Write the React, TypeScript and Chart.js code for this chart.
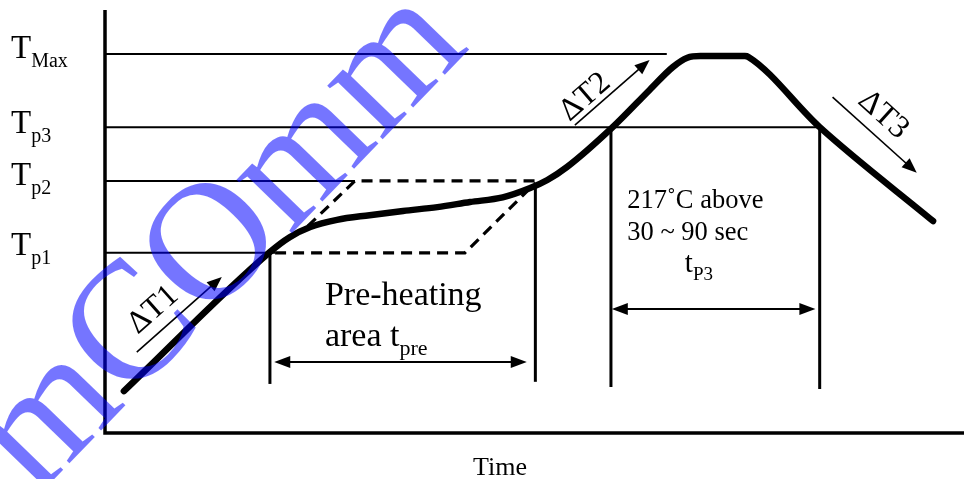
import { useEffect, useRef } from "react";
import { Chart, registerables } from "chart.js";

Chart.register(...registerables);

// ---- data (abstract time 0..100, abstract temperature 0..100) ----
const levelNames = ["Max", "p3", "p2", "p1"];
const levelValues = [89.6, 72.3, 59.6, 42.6];
const levelLineEnds = [65.4, 83.2, 29.1, 19.8];

const profileX = [2.2, 19.2, 21.5, 23.9, 27.0, 30.8, 34.7, 38.7, 42.5, 46.3, 49.5, 51.5, 53.8, 59.1, 63.4, 66.1, 67.8, 69.3, 74.5, 74.9, 83.2, 96.4];
const profileY = [9.9, 42.8, 46.3, 48.7, 50.4, 51.5, 52.5, 53.4, 54.6, 55.7, 57.9, 59.8, 62.9, 72.3, 81.1, 86.5, 88.7, 89.1, 89.1, 88.9, 72.3, 50.1];

const soakUpperX = [23.6, 29.1, 50.1];
const soakUpperY = [48.9, 59.6, 59.6];
const soakLowerX = [19.8, 41.9, 50.1];
const soakLowerY = [42.6, 42.6, 59.1];

const markerX = [19.2, 50.1, 58.9, 83.2];
const markerTop = [42.6, 58.4, 72.3, 72.3];
const markerBottom = [11.6, 12.1, 10.9, 10.4];

const spanFromX = [19.7, 59.0];
const spanToX = [49.1, 82.7];
const spanY = [16.8, 29.3];

const rateNames = ["ΔT1", "ΔT2", "ΔT3"];
const rateFromX = [3.7, 54.7, 84.7];
const rateFromY = [19.1, 72.8, 79.4];
const rateToX = [13.6, 63.4, 94.5];
const rateToY = [36.9, 88.2, 61.5];
const rateLabelX = [5.6, 55.9, 90.6];
const rateLabelY = [29.1, 79.4, 75.2];

const preheatLines = ["Pre-heating", "area t"];
const preheatSub = "pre";
const peakLines = ["217˚C above", "30 ~ 90 sec"];
const peakTime = ["t", "P3"];
const xTitle = "Time";
const watermark = "mCOmm";

const SERIF = "'Liberation Serif', 'DejaVu Serif', serif";

function seg(x1: number, y1: number, x2: number, y2: number) {
  return [
    { x: x1, y: y1 },
    { x: x2, y: y2 },
  ];
}

function head(ctx: CanvasRenderingContext2D, x: number, y: number, ang: number, len = 15, w = 5.5) {
  ctx.save();
  ctx.translate(x, y);
  ctx.rotate(ang);
  ctx.beginPath();
  ctx.moveTo(0, 0);
  ctx.lineTo(-len, -w);
  ctx.lineTo(-len, w);
  ctx.closePath();
  ctx.fill();
  ctx.restore();
}

const decorPlugin = {
  id: "decor",
  afterDatasetsDraw(chart: any) {
    const ctx: CanvasRenderingContext2D = chart.ctx;
    const xs = chart.scales.x;
    const ys = chart.scales.y;
    const area = chart.chartArea;
    const px = (v: number) => xs.getPixelForValue(v);
    const py = (v: number) => ys.getPixelForValue(v);
    ctx.save();
    ctx.fillStyle = "#000";
    ctx.strokeStyle = "#000";

    // axes
    ctx.lineWidth = 3.5;
    ctx.beginPath();
    ctx.moveTo(area.left, area.top);
    ctx.lineTo(area.left, area.bottom);
    ctx.lineTo(area.right, area.bottom);
    ctx.stroke();

    // span arrows (double-headed)
    ctx.lineWidth = 2;
    for (let i = 0; i < spanY.length; i++) {
      const x1 = px(spanFromX[i]);
      const x2 = px(spanToX[i]);
      const y = py(spanY[i]);
      ctx.beginPath();
      ctx.moveTo(x1 + 8, y);
      ctx.lineTo(x2 - 8, y);
      ctx.stroke();
      head(ctx, x1, y, Math.PI, 16, 6);
      head(ctx, x2, y, 0, 16, 6);
    }

    // rate arrows and labels
    ctx.lineWidth = 1.6;
    for (let i = 0; i < rateNames.length; i++) {
      const x1 = px(rateFromX[i]);
      const y1 = py(rateFromY[i]);
      const x2 = px(rateToX[i]);
      const y2 = py(rateToY[i]);
      const ang = Math.atan2(y2 - y1, x2 - x1);
      ctx.beginPath();
      ctx.moveTo(x1, y1);
      ctx.lineTo(x2 - Math.cos(ang) * 8, y2 - Math.sin(ang) * 8);
      ctx.stroke();
      head(ctx, x2, y2, ang, 15, 6);
      ctx.save();
      ctx.translate(px(rateLabelX[i]), py(rateLabelY[i]));
      ctx.rotate(ang);
      ctx.font = `32px ${SERIF}`;
      ctx.textAlign = "center";
      ctx.textBaseline = "middle";
      ctx.fillText(rateNames[i], 0, 0);
      ctx.restore();
    }

    // level labels on the left
    ctx.textAlign = "left";
    ctx.textBaseline = "alphabetic";
    const baseOff = [4, 6, 4, 2];
    for (let i = 0; i < levelNames.length; i++) {
      const y = py(levelValues[i]) + baseOff[i];
      const x = 11;
      ctx.font = `33px ${SERIF}`;
      ctx.fillText("T", x, y);
      const w = ctx.measureText("T").width;
      ctx.font = `20px ${SERIF}`;
      ctx.fillText(levelNames[i], x + w, y + 9);
    }

    // pre-heating text
    ctx.font = `34px ${SERIF}`;
    const phx = px(25.6);
    ctx.fillText(preheatLines[0], phx, py(30.3));
    ctx.fillText(preheatLines[1], phx, py(20.6));
    const w2 = ctx.measureText(preheatLines[1]).width;
    ctx.font = `22px ${SERIF}`;
    ctx.fillText(preheatSub, phx + w2, py(20.6) + 9);

    // peak text
    ctx.font = `26.5px ${SERIF}`;
    ctx.fillText(peakLines[0], px(60.8), py(53.2));
    ctx.fillText(peakLines[1], px(60.8), py(45.6));
    ctx.font = `29px ${SERIF}`;
    ctx.fillText(peakTime[0], px(67.5), py(38.1));
    const wt = ctx.measureText(peakTime[0]).width;
    ctx.font = `19px ${SERIF}`;
    ctx.fillText(peakTime[1], px(67.5) + wt, py(38.1) + 8);

    // x title
    ctx.font = `26px ${SERIF}`;
    ctx.fillText(xTitle, 473, 475);
    ctx.restore();
  },
  afterDraw(chart: any) {
    const ctx: CanvasRenderingContext2D = chart.ctx;
    ctx.save();
    ctx.translate(222, 242);
    ctx.rotate((-46 * Math.PI) / 180);
    ctx.font = `168px ${SERIF}`;
    ctx.textAlign = "center";
    ctx.textBaseline = "middle";
    ctx.fillStyle = "rgba(0,0,255,0.54)";
    ctx.fillText(watermark, 0, 0);
    ctx.restore();
  },
};

export default function App() {
  const ref = useRef<HTMLCanvasElement | null>(null);
  useEffect(() => {
    if (!ref.current) return;
    const datasets: any[] = [];
    // level reference lines
    levelValues.forEach((v, i) => {
      datasets.push({ data: seg(0, v, levelLineEnds[i], v), borderColor: "#000", borderWidth: 2, pointRadius: 0, showLine: true });
    });
    // vertical markers
    markerX.forEach((x, i) => {
      datasets.push({ data: seg(x, markerBottom[i], x, markerTop[i]), borderColor: "#000", borderWidth: 3, pointRadius: 0, showLine: true });
    });
    // soak envelope (dashed)
    datasets.push({
      data: soakUpperX.map((x, i) => ({ x, y: soakUpperY[i] })),
      borderColor: "#000", borderWidth: 3.2, borderDash: [11, 7], pointRadius: 0, showLine: true,
    });
    datasets.push({
      data: soakLowerX.map((x, i) => ({ x, y: soakLowerY[i] })),
      borderColor: "#000", borderWidth: 3.2, borderDash: [11, 7], pointRadius: 0, showLine: true,
    });
    // profile
    datasets.push({
      data: profileX.map((x, i) => ({ x, y: profileY[i] })),
      borderColor: "#000", borderWidth: 6.5, pointRadius: 0, showLine: true,
      cubicInterpolationMode: "monotone", borderCapStyle: "round", borderJoinStyle: "round",
    });

    const chart = new Chart(ref.current, {
      type: "scatter",
      data: { datasets },
      options: {
        animation: false,
        responsive: false,
        layout: { padding: { left: 105, top: 10, right: 0, bottom: 46 } },
        plugins: { legend: { display: false }, tooltip: { enabled: false } },
        scales: {
          x: { type: "linear", min: 0, max: 100, display: false },
          y: { type: "linear", min: 0, max: 100, display: false },
        },
      },
      plugins: [decorPlugin],
    });
    return () => chart.destroy();
  }, []);
  return (
    <div style={{ position: "fixed", left: 0, top: 0, width: 964, height: 479, background: "#fff" }}>
      <canvas ref={ref} width={964} height={479} style={{ display: "block" }} />
    </div>
  );
}
